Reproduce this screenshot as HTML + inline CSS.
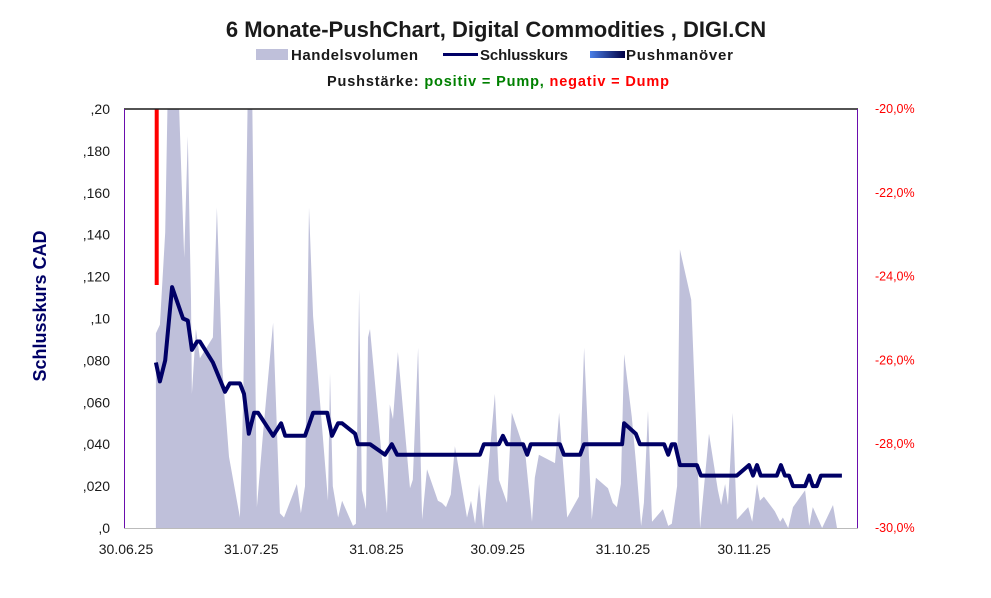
<!DOCTYPE html>
<html><head><meta charset="utf-8"><style>
body{margin:0;background:#fff;width:991px;height:593px;overflow:hidden;font-family:"Liberation Sans",sans-serif}
svg text{font-family:"Liberation Sans",sans-serif}
</style></head><body>
<svg id="chart" width="991" height="593" xmlns="http://www.w3.org/2000/svg">
<text x="496" y="37" text-anchor="middle" font-size="22" font-weight="bold" fill="#1a1a1a">6 Monate-PushChart, Digital Commodities , DIGI.CN</text>
<g font-size="15" font-weight="bold" fill="#1a1a1a">
<rect x="256" y="49" width="32" height="11" fill="#bfc0da"/>
<text x="291" y="60" textLength="127">Handelsvolumen</text>
<rect x="443" y="53" width="35" height="3" fill="#000066"/>
<text x="480" y="60" textLength="88">Schlusskurs</text>
<defs><linearGradient id="pg"><stop offset="0" stop-color="#4a7fe8"/><stop offset="1" stop-color="#000044"/></linearGradient></defs>
<rect x="590" y="51" width="35" height="7" fill="url(#pg)"/>
<text x="626" y="60" textLength="107">Pushmanöver</text>
</g>
<text x="327" y="86" font-size="14.5" font-weight="bold" textLength="342"><tspan fill="#1a1a1a">Pushstärke:  </tspan><tspan fill="#008000">positiv = Pump,  </tspan><tspan fill="#ff0000">negativ = Dump</tspan></text>
<text transform="translate(46,306) rotate(-90)" text-anchor="middle" font-size="18" font-weight="bold" fill="#000066">Schlusskurs CAD</text>
<g id="plot"></g>
</svg>
<script>
const leftTicks=[0,0.02,0.04,0.06,0.08,0.10,0.12,0.14,0.16,0.18,0.20];
const leftTickLabels=[",0",",020",",040",",060",",080",",10",",120",",140",",160",",180",",20"];
const rightTicks=[-30,-28,-26,-24,-22,-20];
const rightTickLabels=["-30,0%","-28,0%","-26,0%","-24,0%","-22,0%","-20,0%"];
const xTickDays=[0,31,62,92,123,153];
const xTickLabels=["30.06.25","31.07.25","31.08.25","30.09.25","31.10.25","30.11.25"];
const priceDays=[7.4,8.4,9.7,11.4,14.1,15.3,16.3,17.6,18.3,21.5,24.5,25.7,28.2,29.2,30.4,31.7,32.7,36.4,38.4,39.4,44.3,46.3,49.8,51.0,52.5,53.5,56.7,57.4,60.4,64.1,65.8,67.1,87.6,88.6,92.3,93.3,94.3,98.3,99.3,100.2,107.4,108.4,112.4,113.4,122.8,123.3,126.2,127.2,133.2,134.2,135.1,135.9,137.1,141.3,142.3,151.2,154.2,155.2,156.2,157.1,161.1,162.1,163.1,164.1,165.1,168.1,169.1,170.0,171.0,172.0,177.2];
const priceValues=[0.079,0.070,0.080,0.115,0.100,0.099,0.085,0.089,0.089,0.079,0.065,0.069,0.069,0.064,0.045,0.055,0.055,0.044,0.050,0.044,0.044,0.055,0.055,0.044,0.050,0.050,0.045,0.040,0.040,0.035,0.040,0.035,0.035,0.040,0.040,0.044,0.040,0.040,0.035,0.040,0.040,0.035,0.035,0.040,0.040,0.050,0.045,0.040,0.040,0.035,0.040,0.040,0.030,0.030,0.025,0.025,0.030,0.025,0.030,0.025,0.025,0.030,0.025,0.025,0.020,0.020,0.025,0.020,0.020,0.025,0.025];
const volDays=[7.4,7.4,8.4,9.7,10.4,12.9,14.4,15.3,16.1,16.3,17.3,18.3,21.5,22.5,23.8,25.5,28.2,29.0,30.2,31.2,32.4,33.9,36.4,38.1,39.1,42.3,43.3,44.3,45.3,46.3,50.0,50.5,51.2,52.5,53.5,56.2,56.9,57.7,58.4,59.4,59.9,60.4,64.6,65.3,66.1,67.3,70.3,71.0,72.3,73.3,74.5,77.2,78.2,79.2,80.4,81.4,84.4,85.4,86.4,87.4,88.4,91.3,92.3,94.3,95.5,98.8,100.5,101.2,102.2,106.2,107.2,109.2,112.1,113.4,115.3,116.3,119.3,120.5,121.5,122.5,123.3,125.2,126.2,127.5,128.2,129.2,130.2,132.9,134.2,135.1,136.4,137.1,139.9,142.1,144.3,146.5,147.3,148.3,149.0,150.2,151.2,154.0,155.0,156.2,156.9,157.9,160.6,161.9,162.6,163.9,165.1,168.1,169.1,170.0,172.3,175.0,176.0,177.5];
const volValues=[0,93,97,141,215,215,129,187,109,64,95,81,91,153,77,34,5,61,215,215,10,45,98,7,5,21,7,20,153,101,13,74,20,5,13,1,2,114,18,9,91,95,7,59,52,84,19,23,86,4,28,13,12,10,16,39,5,13,2,21,0,64,23,12,55,36,3,24,35,31,55,5,15,86,4,24,19,12,10,21,83,53,32,1,12,56,3,9,1,2,20,133,109,0,45,18,11,21,11,55,4,10,3,21,13,15,8,3,5,0,10,18,1,10,0,11,0,0];
const pushDays=[7.6];
const pushValues=[-24.2];

const X0=124,X1=858,Y0=528,Y1=109;
const dayX=d=>126+d*4.04;
const yL=v=>Y0-(v/0.2)*(Y0-Y1);
const yR=p=>Y0-((p+30)/10)*(Y0-Y1);
const NS="http://www.w3.org/2000/svg";
const plot=document.getElementById('plot');
function mk(t,a){const e=document.createElementNS(NS,t);for(const k in a)e.setAttribute(k,a[k]);plot.appendChild(e);return e;}
const cp=mk('clipPath',{id:'clip'});const cr=document.createElementNS(NS,'rect');cr.setAttribute('x',X0);cr.setAttribute('y',Y1);cr.setAttribute('width',X1-X0);cr.setAttribute('height',Y0-Y1);cp.appendChild(cr);
let d='M'+dayX(volDays[0])+','+Y0;
volDays.forEach((v,i)=>{d+=' L'+dayX(v).toFixed(1)+','+yL(volValues[i]/1000).toFixed(1);});
d+=' L'+dayX(volDays[volDays.length-1])+','+Y0+' Z';
const va=mk('path',{d:d,fill:'#bfc0da','clip-path':'url(#clip)'});


pushDays.forEach((pd,i)=>{const b=mk('line',{x1:dayX(pd),x2:dayX(pd),y1:Y1,y2:yR(pushValues[i]),stroke:'#ff0000','stroke-width':4});

});
const pts=priceDays.map((p,i)=>dayX(p).toFixed(1)+','+yL(priceValues[i]).toFixed(1)).join(' ');
const pl=mk('polyline',{points:pts,fill:'none',stroke:'#000066','stroke-width':4,'stroke-linejoin':'round'});


const ft=mk('line',{x1:X0,x2:X1,y1:Y1,y2:Y1,stroke:'#1a1a1a','stroke-width':1.5});


const fb=mk('line',{x1:X0,x2:X1,y1:Y0+0.5,y2:Y0+0.5,stroke:'#bbbbbb','stroke-width':1});


const fl=mk('line',{x1:X0+0.5,x2:X0+0.5,y1:Y1,y2:Y0,stroke:'#6a0dad','stroke-width':1});


const fr=mk('line',{x1:X1-0.5,x2:X1-0.5,y1:Y1,y2:Y0,stroke:'#6a0dad','stroke-width':1});


leftTicks.forEach((v,i)=>{const t=mk('text',{x:110,y:yL(v)+5,'text-anchor':'end','font-size':14,fill:'#1a1a1a'});t.textContent=leftTickLabels[i];

});
rightTicks.forEach((v,i)=>{const t=mk('text',{x:875,y:yR(v)+4,'font-size':12.5,fill:'#ff0000'});t.textContent=rightTickLabels[i];

});
xTickDays.forEach((v,i)=>{const t=mk('text',{x:dayX(v),y:554,'text-anchor':'middle','font-size':14,fill:'#1a1a1a'});t.textContent=xTickLabels[i];

});
</script>
</body></html>
